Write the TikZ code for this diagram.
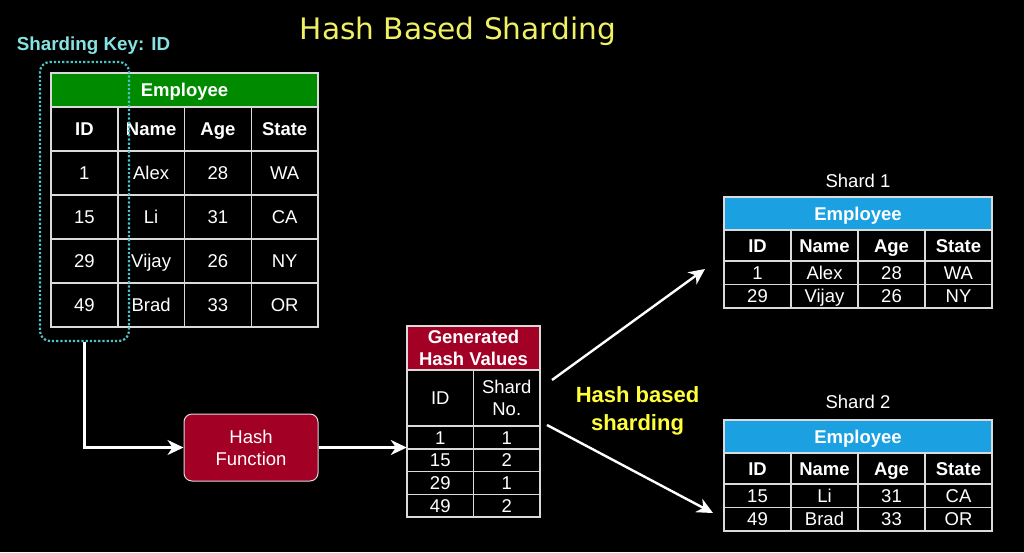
\documentclass[tikz,border=0pt]{standalone}
\usepackage{fontspec}
\setmainfont{Liberation Sans}
\newfontfamily\titlefamily{DejaVu Sans}
\usetikzlibrary{arrows.meta}

\definecolor{empgreen}{HTML}{008A00}
\definecolor{hashred}{HTML}{A20025}
\definecolor{shardblue}{HTML}{1BA1E2}
\definecolor{titleyellow}{HTML}{F0F064}
\definecolor{labelyellow}{HTML}{FFFF3C}
\definecolor{keycyan}{HTML}{86E3E3}
\definecolor{keydots}{HTML}{4FC3C8}
\definecolor{tblline}{HTML}{DADADA}

\newcommand{\celltxt}{\fontsize{18.5pt}{22pt}\selectfont}

\tikzset{
  cell/.style={draw=tblline, line width=1.5pt, text=white, inner sep=0pt, font=\celltxt, text height=13.3pt, text depth=0pt},
  hdrcell/.style={cell, font=\celltxt\bfseries},
  twoline/.style={draw=tblline, line width=1.5pt, text=white, inner sep=0pt, align=center, font=\celltxt},
  tabhead/.style={twoline, font=\celltxt\bfseries},
  keybox/.style={draw=keydots, line width=2.2pt, dotted, rounded corners=10pt, inner sep=0pt},
  hashfn/.style={draw=tblline, line width=1pt, fill=hashred, rounded corners=8pt, text=white, align=center, font=\celltxt, inner sep=0pt},
  arr/.style={draw=white, line width=2.4pt, -{Stealth[length=16pt,width=15pt,inset=5pt]}},
}

% shard table: name, top, first row, second row
\newcommand{\shardtab}[4]{%
  \node[hdrcell, fill=shardblue, minimum width=268pt, minimum height=33pt] (#1) at (858,#2+16.5) {Employee};
  \foreach \txt [count=\ci from 0] in {ID,Name,Age,State}
    \node[hdrcell, minimum width=67pt, minimum height=31pt] (#1-0-\ci) at (757.5+67*\ci,#2+48.5) {\txt};
  \foreach \txt [count=\ci from 0] in {#3}
    \node[cell, minimum width=67pt, minimum height=23.5pt] (#1-1-\ci) at (757.5+67*\ci,#2+75.75) {\txt};
  \foreach \txt [count=\ci from 0] in {#4}
    \node[cell, minimum width=67pt, minimum height=23.5pt] (#1-2-\ci) at (757.5+67*\ci,#2+99.25) {\txt};
}

\begin{document}
\begin{tikzpicture}[x=1pt, y=-1pt]
  \useasboundingbox[fill=black] (0,0) rectangle (1024,552);

  % title and key label
  \node[anchor=base, font=\titlefamily\fontsize{29.6pt}{34pt}\selectfont, text=titleyellow] (title) at (458,39) {Hash Based Sharding};
  \node[anchor=base, font=\fontsize{18.8pt}{22pt}\selectfont\bfseries, text=keycyan] (keylbl) at (93.5,50) {Sharding Key: ID};

  % employee table
  \node[hdrcell, fill=empgreen, minimum width=267pt, minimum height=34pt] (emp) at (184.5,90) {Employee};
  \foreach \txt [count=\ci from 0] in {ID,Name,Age,State}
    \node[hdrcell, minimum width=66.75pt, minimum height=44pt] (emp-0-\ci) at (84.375+66.75*\ci,129) {\txt};
  \foreach \rowlist [count=\ri] in {{1,Alex,28,WA},{15,Li,31,CA},{29,Vijay,26,NY},{49,Brad,33,OR}}
    \foreach \txt [count=\ci from 0] in \rowlist
      \node[cell, minimum width=66.75pt, minimum height=44pt] (emp-\ri-\ci) at (84.375+66.75*\ci,129+44*\ri) {\txt};

  % sharding key column
  \node[keybox, minimum width=89pt, minimum height=279pt] (key) at (84.5,201.5) {};

  % hash function
  \node[hashfn, minimum width=134pt, minimum height=67pt] (hash) at (251,447.5) {Hash\\Function};

  % generated hash values
  \node[tabhead, fill=hashred, minimum width=133pt, minimum height=44pt] (genhead) at (473.5,348) {Generated\\Hash Values};
  \node[cell, minimum width=66.5pt, minimum height=56pt] (gen-0-0) at (440.25,398) {ID};
  \node[twoline, minimum width=66.5pt, minimum height=56pt] (gen-0-1) at (506.75,398) {Shard\\No.};
  \foreach \rowlist [count=\ri] in {{1,1},{15,2},{29,1},{49,2}}
    \foreach \txt [count=\ci from 0] in \rowlist
      \node[cell, minimum width=66.5pt, minimum height=22.75pt] (gen-\ri-\ci) at (440.25+66.5*\ci,414.625+22.75*\ri) {\txt};
  \node[inner sep=0pt, minimum width=133pt, minimum height=191pt] (gen) at (473.5,421.5) {};

  \node[font=\fontsize{22pt}{27.5pt}\selectfont\bfseries, text=labelyellow, align=center] (lbl) at (637.5,411) {Hash based\\sharding};

  % shards
  \node[anchor=base, font=\celltxt, text=white] (s1lbl) at (858,187) {Shard 1};
  \shardtab{sa}{197}{1,Alex,28,WA}{29,Vijay,26,NY}
  \node[anchor=base, font=\celltxt, text=white] (s2lbl) at (858,408) {Shard 2};
  \shardtab{sb}{420}{15,Li,31,CA}{49,Brad,33,OR}

  % connectors
  \coordinate (fork1) at (552,380);
  \coordinate (fork2) at (547,425);
  \coordinate (in1) at (705,269);
  \coordinate (in2) at (713,513);
  \draw[arr] (key.south) |- (hash.west);
  \draw[arr] (hash.east) -- (hash.east -| gen.west);
  \draw[arr] (fork1) -- (in1);
  \draw[arr] (fork2) -- (in2);

\end{tikzpicture}
\end{document}
